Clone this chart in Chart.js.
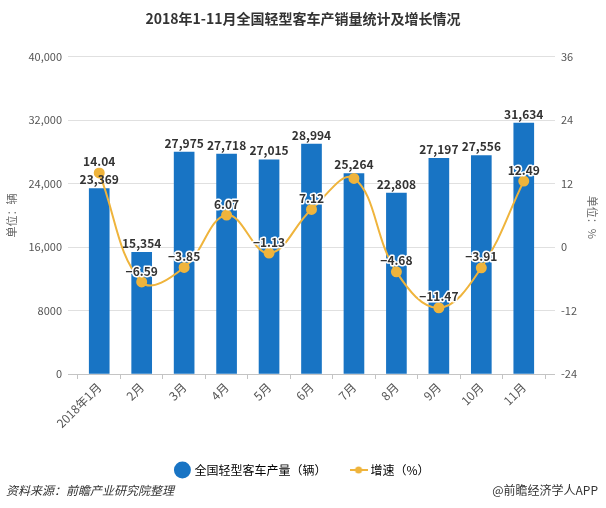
<!DOCTYPE html>
<html>
<head>
<meta charset="utf-8">
<script src="https://cdn.jsdelivr.net/npm/chart.js@4.4.0/dist/chart.umd.min.js"></script>
<style>
  html, body { margin: 0; padding: 0; background: #fff; }
  #wrap { position: relative; width: 606px; height: 508px; }
  #foot-left, #foot-right {
    position: absolute; top: 481px; font-size: 12px; color: #333;
    font-family: "Noto Sans CJK SC", "Noto Sans", sans-serif;
  }
  #foot-left { left: 6px; font-style: italic; }
  #foot-right { right: 8px; }
</style>
</head>
<body>
<div id="wrap">
  <canvas id="c" width="606" height="508"></canvas>
  <div id="foot-left">资料来源：前瞻产业研究院整理</div>
  <div id="foot-right">@前瞻经济学人APP</div>
</div>
<script>
// 数据
const months = ['2018年1月', '2月', '3月', '4月', '5月', '6月', '7月', '8月', '9月', '10月', '11月'];
const output = [23369, 15354, 27975, 27718, 27015, 28994, 25264, 22808, 27197, 27556, 31634];
const growth = [14.04, -6.59, -3.85, 6.07, -1.13, 7.12, 13.0, -4.68, -11.47, -3.91, 12.49];
const hiddenGrowthLabels = [6]; // 7月的标签被柱子数值遮住
const leftTicks = [0, 8000, 16000, 24000, 32000, 40000];
const rightTicks = [-24, -12, 0, 12, 24, 36];

const BLUE = '#1874c4';
const GOLD = '#efb43c';
const FONT = '"Noto Sans CJK SC", "Noto Sans", sans-serif';
const GRID = '#e0e0e0';
const AXIS = '#c4c4c4';

// 图例里的“线+点”小图标
function lineIcon() {
  const cv = document.createElement('canvas');
  cv.width = 18; cv.height = 10;
  const g = cv.getContext('2d');
  g.strokeStyle = GOLD; g.lineWidth = 2;
  g.beginPath(); g.moveTo(0, 5); g.lineTo(18, 5); g.stroke();
  g.fillStyle = GOLD;
  g.beginPath(); g.arc(9, 5, 3.5, 0, Math.PI * 2); g.fill();
  return cv;
}

// 数值标签 + 两侧单位
const valueLabels = {
  id: 'valueLabels',
  afterDatasetsDraw(chart) {
    const ctx = chart.ctx;
    ctx.save();
    ctx.font = 'bold 12px ' + FONT;
    ctx.textAlign = 'center';
    ctx.textBaseline = 'bottom';
    ctx.lineJoin = 'round';
    chart.getDatasetMeta(0).data.forEach((el, i) => {
      ctx.fillStyle = '#333';
      ctx.fillText(output[i].toLocaleString('en-US'), el.x, el.y - 3);
    });
    chart.getDatasetMeta(1).data.forEach((el, i) => {
      if (hiddenGrowthLabels.includes(i)) return;
      const txt = growth[i].toFixed(2).replace('-', '\u2212');
      ctx.strokeStyle = '#fff';
      ctx.lineWidth = 3;
      ctx.strokeText(txt, el.x, el.y - 5);
      ctx.fillStyle = '#333';
      ctx.fillText(txt, el.x, el.y - 5);
    });
    ctx.restore();
  },
  afterDraw(chart) {
    const ctx = chart.ctx;
    const a = chart.chartArea;
    const midY = (a.top + a.bottom) / 2;
    ctx.save();
    ctx.font = '11px ' + FONT;
    ctx.fillStyle = '#666';
    ctx.textAlign = 'center';
    ctx.textBaseline = 'middle';
    ctx.save();
    ctx.translate(12, midY);
    ctx.rotate(-Math.PI / 2);
    ctx.fillText('单位：辆', 0, 0);
    ctx.restore();
    ctx.translate(592, midY + 2);
    ctx.rotate(Math.PI / 2);
    ctx.fillText('单位：%', 0, 0);
    ctx.restore();
  }
};

const gridColor = c => (c.tick && c.tick.value === c.scale.min) ? AXIS : GRID;

const chart = new Chart(document.getElementById('c'), {
  data: {
    labels: months,
    datasets: [
      {
        type: 'bar',
        label: '全国轻型客车产量（辆）',
        data: output,
        yAxisID: 'y',
        backgroundColor: BLUE,
        barThickness: 20,
        order: 2
      },
      {
        type: 'line',
        label: '增速（%）',
        data: growth,
        yAxisID: 'y1',
        borderColor: GOLD,
        backgroundColor: GOLD,
        borderWidth: 2,
        tension: 0.4,
        pointRadius: 4.5,
        pointBackgroundColor: GOLD,
        pointBorderColor: GOLD,
        order: 1
      }
    ]
  },
  options: {
    responsive: false,
    animation: false,
    layout: { padding: { top: 10, left: 0, right: 0, bottom: 22 } },
    plugins: {
      title: {
        display: true,
        text: '2018年1-11月全国轻型客车产销量统计及增长情况',
        color: '#333',
        font: { family: FONT, size: 14, weight: 'bold' },
        padding: { top: 0, bottom: 30 }
      },
      legend: {
        position: 'bottom',
        labels: {
          color: '#333',
          font: { family: FONT, size: 12 },
          usePointStyle: true,
          boxHeight: 13,
          padding: 10,
          generateLabels: () => [
            { text: '全国轻型客车产量（辆）      ', pointStyle: 'circle', fillStyle: BLUE, strokeStyle: BLUE, lineWidth: 0, datasetIndex: 0 },
            { text: '增速（%）', pointStyle: lineIcon(), fillStyle: GOLD, strokeStyle: GOLD, lineWidth: 0, datasetIndex: 1 }
          ]
        }
      },
      tooltip: { enabled: false }
    },
    scales: {
      x: {
        offset: true,
        afterFit: s => { s.height = 80; },
        grid: { display: true, drawOnChartArea: false, drawTicks: true, tickLength: 5, color: AXIS },
        border: { color: AXIS },
        ticks: {
          color: '#555',
          font: { family: FONT, size: 12 },
          maxRotation: 45,
          minRotation: 45,
          padding: 1
        }
      },
      y: {
        position: 'left',
        min: 0,
        max: 40000,
        afterFit: s => { s.width = 78; },
        afterBuildTicks: s => { s.ticks = leftTicks.map(v => ({ value: v })); },
        grid: { color: gridColor, drawTicks: true, tickLength: 10 },
        border: { display: false },
        ticks: {
          color: '#555',
          font: { family: FONT, size: 11 },
          padding: 6,
          callback: v => v >= 10000 ? v.toLocaleString('en-US') : String(v)
        }
      },
      y1: {
        position: 'right',
        min: -24,
        max: 36,
        afterFit: s => { s.width = 61; },
        afterBuildTicks: s => { s.ticks = rightTicks.map(v => ({ value: v })); },
        grid: { display: true, drawOnChartArea: false, drawTicks: true, tickLength: 10, color: gridColor },
        border: { display: false },
        ticks: {
          color: '#555',
          font: { family: FONT, size: 11 },
          padding: 6
        }
      }
    }
  },
  plugins: [valueLabels]
});
</script>
</body>
</html>
